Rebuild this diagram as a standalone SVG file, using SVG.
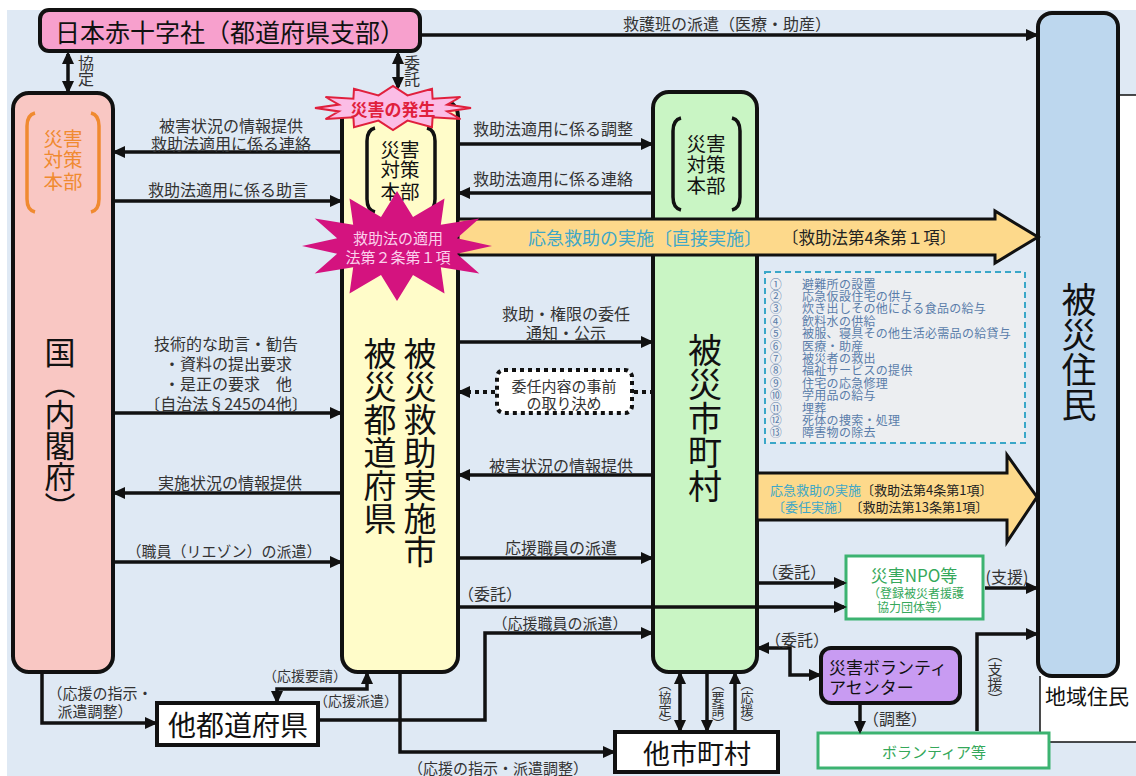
<svg xmlns="http://www.w3.org/2000/svg" width="1136" height="776" viewBox="0 0 1136 776">
<defs>
<style>
text,tspan{font-family:"Noto Sans CJK JP","Noto Sans CJK SC",sans-serif;dominant-baseline:central;}
.vt{writing-mode:vertical-rl;text-anchor:middle}
.bx{stroke:#111;stroke-width:4}
.ln{fill:none;stroke:#111;stroke-width:3.5}
.ar{marker-end:url(#ah)}
.ar2{marker-start:url(#ah);marker-end:url(#ah)}
.dot{stroke-dasharray:4 4;stroke-width:4}
.l16{font-size:16px;fill:#333;text-anchor:middle}
.l15{font-size:15px;fill:#333;text-anchor:middle}
.l14{font-size:14px;fill:#333;text-anchor:middle}
.big{fill:#111;text-anchor:middle}
.brk{fill:none;stroke-width:3.5}
.hq{font-size:19.5px;text-anchor:middle}
.org{fill:#fdd98b;stroke:#111;stroke-width:3}
.teal{fill:#3fa7c7}
.lst{font-size:12px;fill:#5a7daa;letter-spacing:0.3px}
.grn{fill:#35a85a}
</style>
<marker id="ah" viewBox="0 0 13 12" refX="10" refY="6" markerWidth="13" markerHeight="12" orient="auto-start-reverse" markerUnits="userSpaceOnUse"><path d="M0,0 L13,6 L0,12 z" fill="#111"/></marker>
</defs>

<g id="background">
<rect x="7" y="10" width="1129" height="766" fill="#dfe9f4"/>
<rect x="1040" y="95" width="96" height="647" fill="#fff"/>
<path d="M1118,95 H1136 M1040,676 V742 H1136" fill="none" stroke="#111" stroke-width="1.5"/>
</g>

<g id="red-cross">
<rect class="bx" x="40" y="10" width="380" height="41" rx="9" fill="#f7a0cd"/>
<text x="230" y="31" class="big" font-size="25">日本赤十字社（都道府県支部）</text>
</g>

<g id="kuni">
<rect class="bx" x="13" y="93" width="100" height="579" rx="16" fill="#f9c7c3"/>
<path class="brk" stroke="#f08a30" d="M35,113 Q27,115 27,126 V199 Q27,210 35,212 M91,113 Q99,115 99,126 V199 Q99,210 91,212"/>
<text class="hq" fill="#f08a30" x="63" y="137">災害</text>
<text class="hq" fill="#f08a30" x="63" y="158">対策</text>
<text class="hq" fill="#f08a30" x="63" y="180">本部</text>
<text class="vt" x="60" y="430" font-size="31" fill="#111">国（内閣府）</text>
</g>

<g id="pref">
<rect class="bx" x="342" y="100" width="116" height="572" rx="16" fill="#fffcc9"/>
<path class="brk" stroke="#111" d="M375,128 Q367,130 367,141 V199 Q367,210 375,212 M427,128 Q435,130 435,141 V199 Q435,210 427,212"/>
<text class="hq" fill="#111" x="400" y="148">災害</text>
<text class="hq" fill="#111" x="400" y="168.5">対策</text>
<text class="hq" fill="#111" x="400" y="190">本部</text>
<text class="vt" x="420" y="452" font-size="33" fill="#111">被災救助実施市</text>
<text class="vt" x="380" y="435.5" font-size="33" fill="#111">被災都道府県</text>
</g>

<g id="muni">
<rect class="bx" x="653" y="92" width="104" height="580" rx="16" fill="#c9f5c4"/>
<path class="brk" stroke="#111" d="M681,118 Q673,120 673,131 V197 Q673,208 681,210 M732,118 Q740,120 740,131 V197 Q740,208 732,210"/>
<text class="hq" fill="#111" x="706" y="142">災害</text>
<text class="hq" fill="#111" x="706" y="163">対策</text>
<text class="hq" fill="#111" x="706" y="184">本部</text>
<text class="vt" x="705" y="418" font-size="34" fill="#111">被災市町村</text>
</g>

<g id="residents">
<rect class="bx" x="1038" y="13" width="80" height="663" rx="14" fill="#bdd7ee"/>
<text class="vt" x="1079" y="352.5" font-size="35" fill="#111">被災住民</text>
<text x="1087" y="695" font-size="21" class="big">地域住民</text>
</g>

<g id="advance-agreement">
<rect x="497" y="370" width="135" height="43" rx="7" fill="#fff" stroke="#111" stroke-width="4" stroke-dasharray="4 4"/>
<text class="l15" x="564" y="385">委任内容の事前</text>
<text class="l15" x="564" y="402">の取り決め</text>
</g>

<g id="other-pref">
<rect class="bx" x="157" y="703" width="161" height="42" fill="#fff"/>
<text x="238" y="724" font-size="28" class="big">他都道府県</text>
</g>

<g id="other-muni">
<rect class="bx" x="615" y="732" width="163" height="40" fill="#fff"/>
<text x="697" y="752" font-size="27" class="big">他市町村</text>
</g>

<g id="npo">
<rect x="846" y="556" width="137" height="63" fill="#fff" stroke="#3cb371" stroke-width="3"/>
<text x="914" y="574" font-size="17" class="grn" text-anchor="middle">災害NPO等</text>
<text font-size="12" class="grn" x="868" y="592">（登録被災者援護</text>
<text font-size="12" class="grn" x="877" y="606">協力団体等）</text>
</g>

<g id="volunteer-center">
<rect class="bx" x="821" y="648" width="139" height="55" rx="10" fill="#c89bf2"/>
<text font-size="17" fill="#111" x="829" y="666">災害ボランティ</text>
<text font-size="17" fill="#111" x="829" y="686">アセンター</text>
</g>

<g id="volunteers">
<rect x="818" y="733" width="231" height="35" fill="#fff" stroke="#3cb371" stroke-width="3"/>
<text x="934" y="751" font-size="15" class="grn" text-anchor="middle">ボランティア等</text>
</g>

<g id="relief-list">
<rect x="765" y="272" width="260" height="171" fill="#eceef1" stroke="#3aa7c8" stroke-width="2" stroke-dasharray="6 4"/>
<text class="lst" x="776" y="283" text-anchor="middle">①</text><text class="lst" x="802" y="283">避難所の設置</text>
<text class="lst" x="776" y="295.4" text-anchor="middle">②</text><text class="lst" x="802" y="295.4">応急仮設住宅の供与</text>
<text class="lst" x="776" y="307.8" text-anchor="middle">③</text><text class="lst" x="802" y="307.8">炊き出しその他による食品の給与</text>
<text class="lst" x="776" y="320.2" text-anchor="middle">④</text><text class="lst" x="802" y="320.2">飲料水の供給</text>
<text class="lst" x="776" y="332.6" text-anchor="middle">⑤</text><text class="lst" x="802" y="332.6">被服、寝具その他生活必需品の給貸与</text>
<text class="lst" x="776" y="345" text-anchor="middle">⑥</text><text class="lst" x="802" y="345">医療・助産</text>
<text class="lst" x="776" y="357.4" text-anchor="middle">⑦</text><text class="lst" x="802" y="357.4">被災者の救出</text>
<text class="lst" x="776" y="369.8" text-anchor="middle">⑧</text><text class="lst" x="802" y="369.8">福祉サービスの提供</text>
<text class="lst" x="776" y="382.2" text-anchor="middle">⑨</text><text class="lst" x="802" y="382.2">住宅の応急修理</text>
<text class="lst" x="776" y="394.6" text-anchor="middle">⑩</text><text class="lst" x="802" y="394.6">学用品の給与</text>
<text class="lst" x="776" y="407" text-anchor="middle">⑪</text><text class="lst" x="802" y="407">埋葬</text>
<text class="lst" x="776" y="419.4" text-anchor="middle">⑫</text><text class="lst" x="802" y="419.4">死体の捜索・処理</text>
<text class="lst" x="776" y="431.8" text-anchor="middle">⑬</text><text class="lst" x="802" y="431.8">障害物の除去</text>
</g>

<g id="connectors">
<path class="ln ar" d="M422,35 H1036"/>
<path class="ln ar2" d="M68,54 V91"/>
<path class="ln ar2" d="M398,54 V87"/>
<path class="ln ar" d="M340,152 H115"/>
<path class="ln ar" d="M115,201 H340"/>
<path class="ln ar" d="M460,144 H651"/>
<path class="ln ar" d="M651,193 H460"/>
<path class="ln ar" d="M115,413 H340"/>
<path class="ln ar" d="M340,493 H115"/>
<path class="ln ar" d="M115,562 H340"/>
<path class="ln ar" d="M460,342 H651"/>
<path class="ln ar dot" d="M495,392 H460"/>
<path class="ln dot" d="M634,392 H651"/>
<path class="ln ar" d="M651,475 H460"/>
<path class="ln ar" d="M460,558 H651"/>
<path class="ln ar" d="M460,607 H844"/>
<path class="ln ar" d="M320,720 H485 V633 H651"/>
<path class="ln ar" d="M42,674 V723 H155"/>
<path class="ln ar2" d="M277,701 V689 H367 V674"/>
<path class="ln ar" d="M400,674 V752 H613"/>
<path class="ln ar2" d="M680,674 V730"/>
<path class="ln ar" d="M707,674 V730"/>
<path class="ln ar" d="M735,730 V674"/>
<path class="ln ar" d="M759,583 H844"/>
<path class="ln ar" d="M985,588 H1036"/>
<path class="ln ar2" d="M759,648 H790 V675 H819"/>
<path class="ln ar" d="M860,705 V731"/>
<path class="ln ar" d="M977,731 V634 H1036"/>

<text x="727" y="23" class="l16">救護班の派遣（医療・助産）</text>
<text class="vt" x="86" y="71" font-size="16" fill="#333">協定</text>
<text class="vt" x="412" y="71" font-size="16" fill="#333">委託</text>
<text x="231" y="125" class="l16">被害状況の情報提供</text>
<text x="231" y="143" class="l16">救助法適用に係る連絡</text>
<text x="228" y="189" class="l16">救助法適用に係る助言</text>
<text x="553" y="128" class="l16">救助法適用に係る調整</text>
<text x="553" y="178" class="l16">救助法適用に係る連絡</text>
<text x="226" y="343" class="l16">技術的な助言・勧告</text>
<text x="228" y="363" class="l16">・資料の提出要求</text>
<text x="228" y="383" class="l16">・是正の要求　他</text>
<text x="226" y="403" class="l16">〔自治法§245の4他〕</text>
<text x="230" y="482" class="l16">実施状況の情報提供</text>
<text x="224" y="550" class="l15">（職員（リエゾン）の派遣）</text>
<text x="566" y="313" class="l16">救助・権限の委任</text>
<text x="566" y="332" class="l16">通知・公示</text>
<text x="561" y="465" class="l16">被害状況の情報提供</text>
<text x="561" y="547" class="l16">応援職員の派遣</text>
<text x="490" y="593" class="l16">（委託）</text>
<text x="560" y="622" class="l15">（応援職員の派遣）</text>
<text x="498" y="767" class="l15">（応援の指示・派遣調整）</text>
<text x="305" y="675" class="l14">（応援要請）</text>
<text x="356" y="700" class="l14">（応援派遣）</text>
<text x="100" y="692" class="l15">（応援の指示・</text>
<text x="95" y="710" class="l15">派遣調整）</text>
<text class="vt" x="665" y="704" font-size="13" fill="#333">（協定）</text>
<text class="vt" x="718" y="704" font-size="13" fill="#333">（要請）</text>
<text class="vt" x="747" y="704" font-size="13" fill="#333">（応援）</text>
<text x="794" y="571" class="l16">（委託）</text>
<text x="1007" y="576" class="l16">(支援)</text>
<text x="797" y="639" class="l16">（委託）</text>
<text x="895" y="718" class="l16">（調整）</text>
<text class="vt" x="995" y="677" font-size="15" fill="#333">（支援）</text>
</g>

<g id="direct-implementation">
<polygon class="org" points="458,219 995,219 995,211 1038,237 995,263 995,255 458,255"/>
<text font-size="18"><tspan x="528" y="237" class="teal">応急救助の実施〔直接実施〕</tspan><tspan x="782" y="237" fill="#222" font-size="16.5">〔救助法第4条第１項〕</tspan></text>
</g>

<g id="delegated-implementation">
<polygon class="org" points="757,473 1007,473 1007,455 1037,497 1007,542 1007,520 757,520"/>
<text font-size="13" x="770" y="489"><tspan class="teal">応急救助の実施</tspan><tspan fill="#222">〔救助法第4条第1項〕</tspan></text>
<text font-size="13" x="772" y="506"><tspan class="teal">〔委任実施〕</tspan><tspan dx="6" fill="#222">〔救助法第13条第1項〕</tspan></text>
</g>

<g id="disaster-occurs">
<polygon points="471,108 447.1,111.4 460.5,119 432.6,117.2 432,127.1 407.5,120.6 393,130 378.5,120.6 354,127.1 353.4,117.2 325.5,119 338.9,111.4 315,108 338.9,104.6 325.5,97 353.4,98.8 354,88.9 378.5,95.4 393,86 407.5,95.4 432,88.9 432.6,98.8 460.5,97 447.1,104.6" fill="#fbbde6" stroke="#e0203c" stroke-width="2"/>
<text x="393" y="108" font-size="17" font-weight="bold" fill="#e0203c" text-anchor="middle">災害の発生</text>
</g>

<g id="act-applied">
<polygon transform="translate(0,3)" points="492,243 456.9,250.8 479.3,270.5 440.8,264.2 444.5,290.6 413,272 397,298 381,272 349.5,290.6 353.2,264.2 314.7,270.5 337.1,250.8 302,243 337.1,235.2 314.7,215.5 353.2,221.8 349.5,195.4 381,214 397,188 413,214 444.5,195.4 440.8,221.8 479.3,215.5 456.9,235.2" fill="#d4137f"/>
<text font-size="15" fill="#fbd0ec" text-anchor="middle" x="398" y="237">救助法の適用</text>
<text font-size="15" fill="#fbd0ec" text-anchor="middle" x="398" y="256">法第２条第１項</text>
</g>
</svg>
